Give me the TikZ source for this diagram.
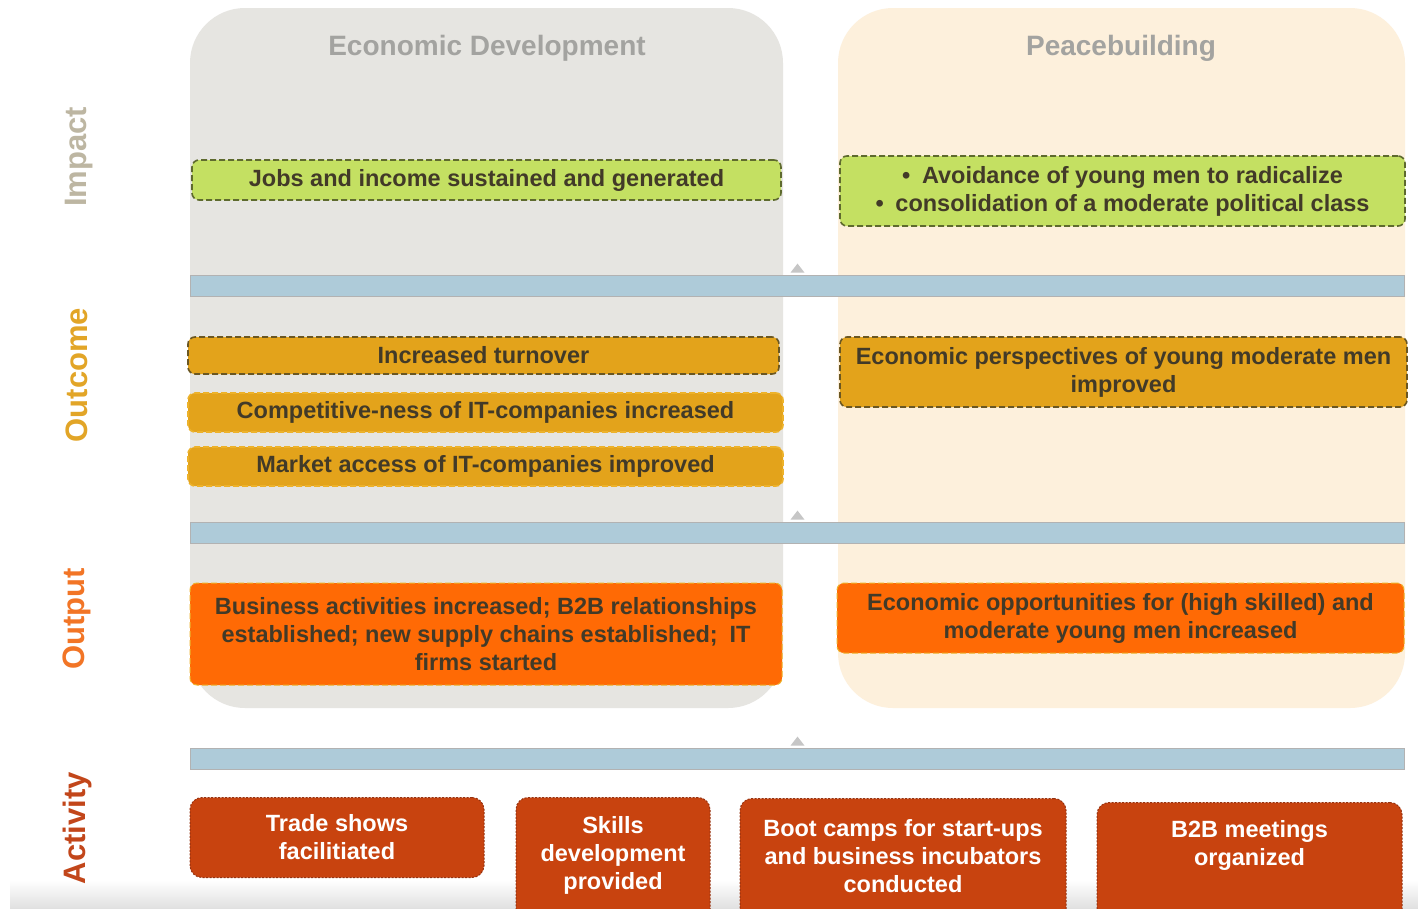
\documentclass[tikz,border=0pt]{standalone}
\usepackage{fontspec}
\setmainfont{Liberation Sans}
\definecolor{panelgray}{HTML}{E6E5E1}
\definecolor{panelcream}{HTML}{FDF0DC}
\definecolor{impactgreen}{HTML}{C4E062}
\definecolor{impactline}{HTML}{5E6A2E}
\definecolor{outcomegold}{HTML}{E3A31B}
\definecolor{outcomeline}{HTML}{6B5722}
\definecolor{outputorange}{HTML}{FF6A05}
\definecolor{outputline}{HTML}{EDB22A}
\definecolor{activityred}{HTML}{C8430F}
\definecolor{activityline}{HTML}{963210}
\definecolor{barblue}{HTML}{AECBD9}
\definecolor{textdark}{HTML}{423A28}
\definecolor{titlegray}{HTML}{A3A3A0}
\definecolor{impactlabel}{HTML}{BDB6A2}
\definecolor{outcomelabel}{HTML}{E2A527}
\definecolor{outputlabel}{HTML}{F27526}
\definecolor{activitylabel}{HTML}{C2461A}
\begin{document}
\begin{tikzpicture}[x=1pt, y=-1pt, font=\bfseries\fontsize{23.5}{28}\selectfont]
  \tikzstyle{panel}=[rounded corners=55pt]
  \tikzstyle{box}=[rounded corners=7pt, dash pattern=on 6pt off 3pt, line width=1.6pt, align=center, inner sep=0pt, text=textdark]
  \tikzstyle{impact}=[box, fill=impactgreen, draw=impactline]
  \tikzstyle{outcome}=[box, fill=outcomegold, draw=outcomeline]
  \tikzstyle{outcomesoft}=[box, fill=outcomegold, draw=outputline]
  \tikzstyle{output}=[box, fill=outputorange, draw=outputline, line width=1pt]
  \tikzstyle{activity}=[box, fill=activityred, draw=activityline, line width=1pt, dash pattern=on 2pt off 1.5pt, rounded corners=12pt, anchor=north, minimum height=130pt]
  \tikzstyle{activitytext}=[align=center, text=white, inner sep=0pt]
  \tikzstyle{bar}=[fill=barblue, draw=gray!60, line width=0.8pt, minimum width=1214pt, minimum height=21pt, inner sep=0pt]
  \tikzstyle{rowlabel}=[rotate=90, font=\bfseries\fontsize{31}{34}\selectfont]
  \tikzstyle{title}=[text=titlegray, font=\bfseries\fontsize{28}{32}\selectfont]
  \clip (0,0) rectangle (1418,908);
  \fill[white] (0,0) rectangle (1418,908);
  \shade[top color=white, bottom color=black!12] (10,880) rectangle (1418,908);
  % panels
  \fill[panelgray, panel] (190,8) rectangle (783,708);
  \fill[panelcream, panel] (838,8) rectangle (1405,708);
  \node[title] (econ) at (487,48) {Economic Development};
  \node[title] (peace) at (1121,48) {Peacebuilding};
  % row labels
  \node[rowlabel, text=impactlabel] (limpact) at (79,157) {Impact};
  \node[rowlabel, text=outcomelabel] (loutcome) at (77,375) {Outcome};
  \node[rowlabel, text=outputlabel] (loutput) at (77,619) {Output};
  \node[rowlabel, text=activitylabel] (lactivity) at (77,828) {Activity};
  % impact
  \node[impact, minimum width=589pt, minimum height=40pt] (jobs) at (486.5,180) {Jobs and income sustained and generated};
  \node[impact, minimum width=565pt, minimum height=70pt] (avoid) at (1122.5,191) {\textbullet\enspace Avoidance of young men to radicalize\\ \textbullet\enspace consolidation of a moderate political class};
  % bars
  \node[bar] (bar1) at (797.5,285.5) {};
  \node[bar] (bar2) at (797.5,532.5) {};
  \node[bar] (bar3) at (797.5,758.5) {};
  \foreach \b in {bar1,bar2,bar3}
    \fill[gray!45] (\b.north) ++(-7,-2) -- ++(7,-9) -- ++(7,9) -- cycle;
  % outcome
  \node[outcome, minimum width=591pt, minimum height=37pt] (turnover) at (483.5,355.5) {Increased turnover};
  \node[outcomesoft, minimum width=595pt, minimum height=39pt] (compet) at (485.5,412.5) {Competitive-ness of IT-companies increased};
  \node[outcomesoft, minimum width=595pt, minimum height=39pt] (market) at (485.5,466.5) {Market access of IT-companies improved};
  \node[outcome, minimum width=567pt, minimum height=70pt] (perspect) at (1123.5,372) {Economic perspectives of young moderate men\\ improved};
  % output
  \node[output, minimum width=592pt, minimum height=102pt] (business) at (486,634) {Business activities increased; B2B relationships\\ established; new supply chains established;\enspace IT\\ firms started};
  \node[output, minimum width=567pt, minimum height=70pt] (opport) at (1120.5,618) {Economic opportunities for (high skilled) and\\ moderate young men increased};
  % activity
  \node[activity, minimum width=294pt, minimum height=80pt] (trade) at (337,797) {};
  \node[activity, minimum width=194pt] (skills) at (613,797) {};
  \node[activity, minimum width=326pt] (boot) at (903,798) {};
  \node[activity, minimum width=305pt] (btob) at (1249.5,802) {};
  \node[activitytext] (tradetxt) at (trade.center) {Trade shows\\ facilitiated};
  \node[activitytext] (skillstxt) at (613,855) {Skills\\ development\\ provided};
  \node[activitytext] (boottxt) at (903,856) {Boot camps for start-ups\\ and business incubators\\ conducted};
  \node[activitytext] (btobtxt) at (1249.5,845) {B2B meetings\\ organized};
\end{tikzpicture}
\end{document}
